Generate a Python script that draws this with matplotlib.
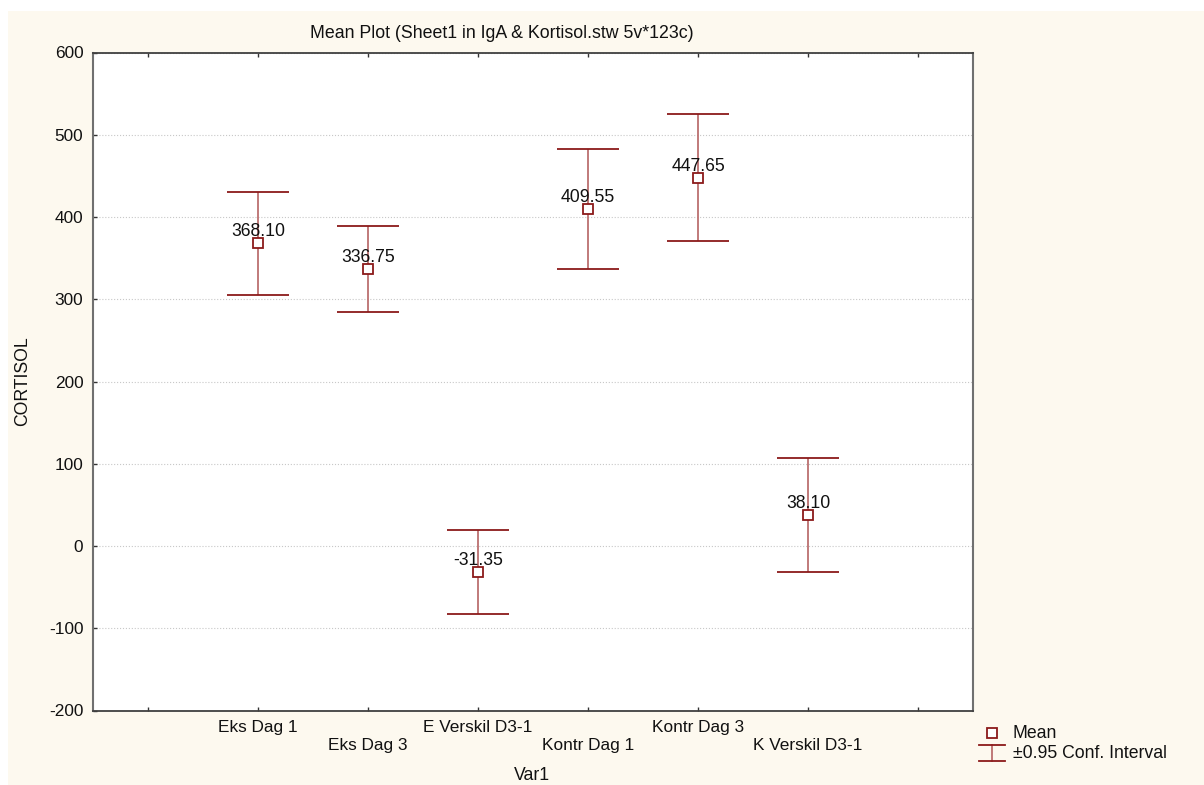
import matplotlib
matplotlib.use("Agg")
import matplotlib.pyplot as plt
from matplotlib.patches import Rectangle
from matplotlib.lines import Line2D

plt.rcParams['font.family'] = ['Liberation Sans', 'DejaVu Sans']

categories = ["Eks Dag 1", "Eks Dag 3", "E Verskil D3-1", "Kontr Dag 1", "Kontr Dag 3", "K Verskil D3-1"]
means = [368.10, 336.75, -31.35, 409.55, 447.65, 38.10]
ci_upper = [431.0, 389.5, 19.5, 482.5, 525.0, 107.5]
ci_lower = [305.2, 284.0, -82.2, 336.6, 370.3, -31.3]
yticks = [-200, -100, 0, 100, 200, 300, 400, 500, 600]

W, H = 1204, 785
cream = '#fdf9ef'
dark_red = '#8b1a1a'
bar_red = '#bb6f6f'
FS = 12.7
TFS = 12.4

fig = plt.figure(figsize=(W / 100, H / 100), dpi=100)
fig.patch.set_facecolor('white')
fig.patches.append(Rectangle((8 / W, 0), 1, 1 - 11 / H, transform=fig.transFigure,
                             facecolor=cream, edgecolor='none', zorder=-10))

def fx(px):
    return px / W

def fy(py):
    return 1 - py / H

ax = fig.add_axes([fx(93), fy(710.5), fx(973) - fx(93), fy(52.5) - fy(710.5)])
ax.set_facecolor('white')

xs = list(range(1, len(categories) + 1))
yerr = [[m - lo for m, lo in zip(means, ci_lower)], [hi - m for m, hi in zip(means, ci_upper)]]

eb = ax.errorbar(xs, means, yerr=yerr, fmt='none', ecolor=bar_red, elinewidth=1.3,
                 capsize=22.3, capthick=1.3, zorder=3)
for cl in eb[1]:
    cl.set_markeredgecolor(dark_red)
    cl.set_color(dark_red)
ax.plot(xs, means, ls='none', marker='s', markersize=6.5, markerfacecolor='white',
        markeredgecolor=dark_red, markeredgewidth=1.3, zorder=5)

for x, m in zip(xs, means):
    ax.annotate(f"{m:.2f}", (x, m), xytext=(0, 7), textcoords='offset pixels',
                ha='center', va='baseline', fontsize=FS, color='#111111', zorder=6)

ax.set_xlim(-0.5, 7.5)
ax.set_ylim(-200, 600)
ax.set_yticks(yticks)
ax.set_yticklabels([str(t) for t in yticks])
ax.set_xticks(range(0, 8))
xl = [''] + [c if i % 2 == 0 else '\n' + c for i, c in enumerate(categories)] + ['']
ax.set_xticklabels(xl)

ax.tick_params(axis='both', direction='in', length=3, width=1, color='#333333',
               labelsize=TFS, labelcolor='#111111')
ax.tick_params(axis='y', pad=7)
ax.tick_params(axis='x', pad=7, top=True)
ax.grid(axis='y', color='#c8c8c8', linestyle=':', linewidth=0.8, zorder=0)
ax.set_axisbelow(True)

for s in ['left', 'right']:
    ax.spines[s].set_color('#707070')
    ax.spines[s].set_linewidth(1.5)
for s in ['top', 'bottom']:
    ax.spines[s].set_color('#404040')
    ax.spines[s].set_linewidth(1.3)

fig.text(fx(502), fy(33), "Mean Plot (Sheet1 in IgA & Kortisol.stw 5v*123c)",
         ha='center', va='center', fontsize=12.8, color='#111111')
fig.text(fx(23), fy(381), "CORTISOL", rotation=90, ha='center', va='center',
         fontsize=FS, color='#111111')
fig.text(fx(532), fy(776), "Var1", ha='center', va='center', fontsize=FS, color='#111111')

# legend
fig.add_artist(Line2D([fx(992)], [fy(733)], transform=fig.transFigure, ls='none', marker='s',
                      markersize=6.5, markerfacecolor='white', markeredgecolor=dark_red,
                      markeredgewidth=1.3))
fig.add_artist(Line2D([fx(992), fx(992)], [fy(745), fy(761)], transform=fig.transFigure,
                      color=bar_red, lw=1.3))
for yy in (745, 761):
    fig.add_artist(Line2D([fx(979), fx(1005)], [fy(yy), fy(yy)], transform=fig.transFigure,
                          color=dark_red, lw=1.3))
fig.text(fx(1013), fy(733), "Mean", ha='left', va='center', fontsize=FS, color='#111111')
fig.text(fx(1013), fy(753), "±0.95 Conf. Interval", ha='left', va='center', fontsize=FS,
         color='#111111')

fig.savefig('out.png', dpi=100, facecolor=fig.get_facecolor())
